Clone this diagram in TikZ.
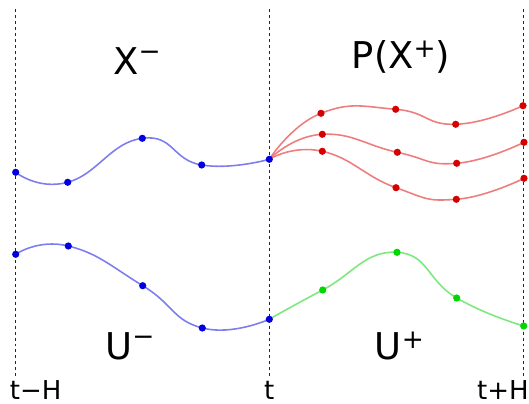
\documentclass[tikz,border=0pt]{standalone}
\usepackage{fontspec}
\setmainfont{DejaVu Sans}
\definecolor{ptblue}{RGB}{0,0,225}
\definecolor{lnblue}{RGB}{125,125,240}
\definecolor{ptred}{RGB}{215,0,0}
\definecolor{lnred}{RGB}{238,125,125}
\definecolor{ptgreen}{RGB}{0,215,0}
\definecolor{lngreen}{RGB}{125,232,125}
\newcommand{\hi}[2]{\raisebox{#1}{\fontsize{15}{15}\selectfont #2}}

\begin{document}
\begin{tikzpicture}[x=0.02cm,y=-0.02cm,
  guide/.style={black!85,line width=0.5pt,dash pattern=on 1.7pt off 1.7pt},
  curve/.style={line width=0.9pt},
  big/.style={font=\fontsize{21}{25}\selectfont,inner sep=0pt,anchor=base},
  small/.style={font=\fontsize{14.8}{17}\selectfont,inner sep=0pt,anchor=base}]
\useasboundingbox (0,0) rectangle (529,404);
\draw[guide] (15.5,9) -- (15.5,378);
\draw[guide] (269.3,9) -- (269.3,378);
\draw[guide] (523.5,9) -- (523.5,378);
% past states
\coordinate (xm0) at (15.7,172.3);
\coordinate (xm1) at (67.7,182.3);
\coordinate (xm2) at (142.3,138.3);
\coordinate (xm3) at (201.7,165);
\coordinate (xm4) at (269.3,159.3);
% predicted states
\coordinate (pa1) at (321,113.3);
\coordinate (pa2) at (395.7,109.3);
\coordinate (pa3) at (455.7,124.3);
\coordinate (pa4) at (523,105.7);
\coordinate (pb1) at (322.3,134.3);
\coordinate (pb2) at (397.3,152.3);
\coordinate (pb3) at (456.7,163.3);
\coordinate (pb4) at (524,142.3);
\coordinate (pc1) at (322.3,151.3);
\coordinate (pc2) at (396,187.7);
\coordinate (pc3) at (456.3,199.3);
\coordinate (pc4) at (524,178.3);
% inputs
\coordinate (um0) at (15.7,254.3);
\coordinate (um1) at (68.3,246);
\coordinate (um2) at (142.7,285.7);
\coordinate (um3) at (202.3,328);
\coordinate (um4) at (269.3,319.3);
\coordinate (up1) at (322.7,290);
\coordinate (up2) at (397,252.3);
\coordinate (up3) at (456.7,298);
\coordinate (up4) at (523.7,326);
\draw[curve,lnred] plot[smooth,tension=0.85] coordinates {(xm4) (pa1) (pa2) (pa3) (pa4)};
\draw[curve,lnred] plot[smooth,tension=0.85] coordinates {(xm4) (pb1) (pb2) (pb3) (pb4)};
\draw[curve,lnred] plot[smooth,tension=0.85] coordinates {(xm4) (pc1) (pc2) (pc3) (pc4)};
\draw[curve,lnblue] plot[smooth,tension=0.85] coordinates {(xm0) (xm1) (xm2) (xm3) (xm4)};
\draw[curve,lnblue] plot[smooth,tension=0.85] coordinates {(um0) (um1) (um2) (um3) (um4)};
\draw[curve,lngreen] plot[smooth,tension=0.85] coordinates {(um4) (up1) (up2) (up3) (up4)};
\foreach \p in {pa1,pa2,pa3,pa4,pb1,pb2,pb3,pb4,pc1,pc2,pc3,pc4}
  \fill[ptred] (\p) circle[radius=3.6];
\foreach \p in {up1,up2,up3,up4}
  \fill[ptgreen] (\p) circle[radius=3.6];
\foreach \p in {xm0,xm1,xm2,xm3,xm4,um0,um1,um2,um3,um4}
  \fill[ptblue] (\p) circle[radius=3.6];
\node[big] (lblxm) at (137,75) {X\hi{8.4pt}{−}};
\node[big] (lblpx) at (401,68.3) {P(X\hi{6.3pt}{+})};
\node[big] (lblum) at (130,360) {U\hi{8.4pt}{−}};
\node[big] (lblup) at (399.5,360) {U\hi{6.5pt}{+}};
\node[small] (lblth) at (35.7,400) {t−H};
\node[small] (lblt) at (269.3,400) {t};
\node[small] (lbltp) at (503,400) {t+H};
\end{tikzpicture}
\end{document}
